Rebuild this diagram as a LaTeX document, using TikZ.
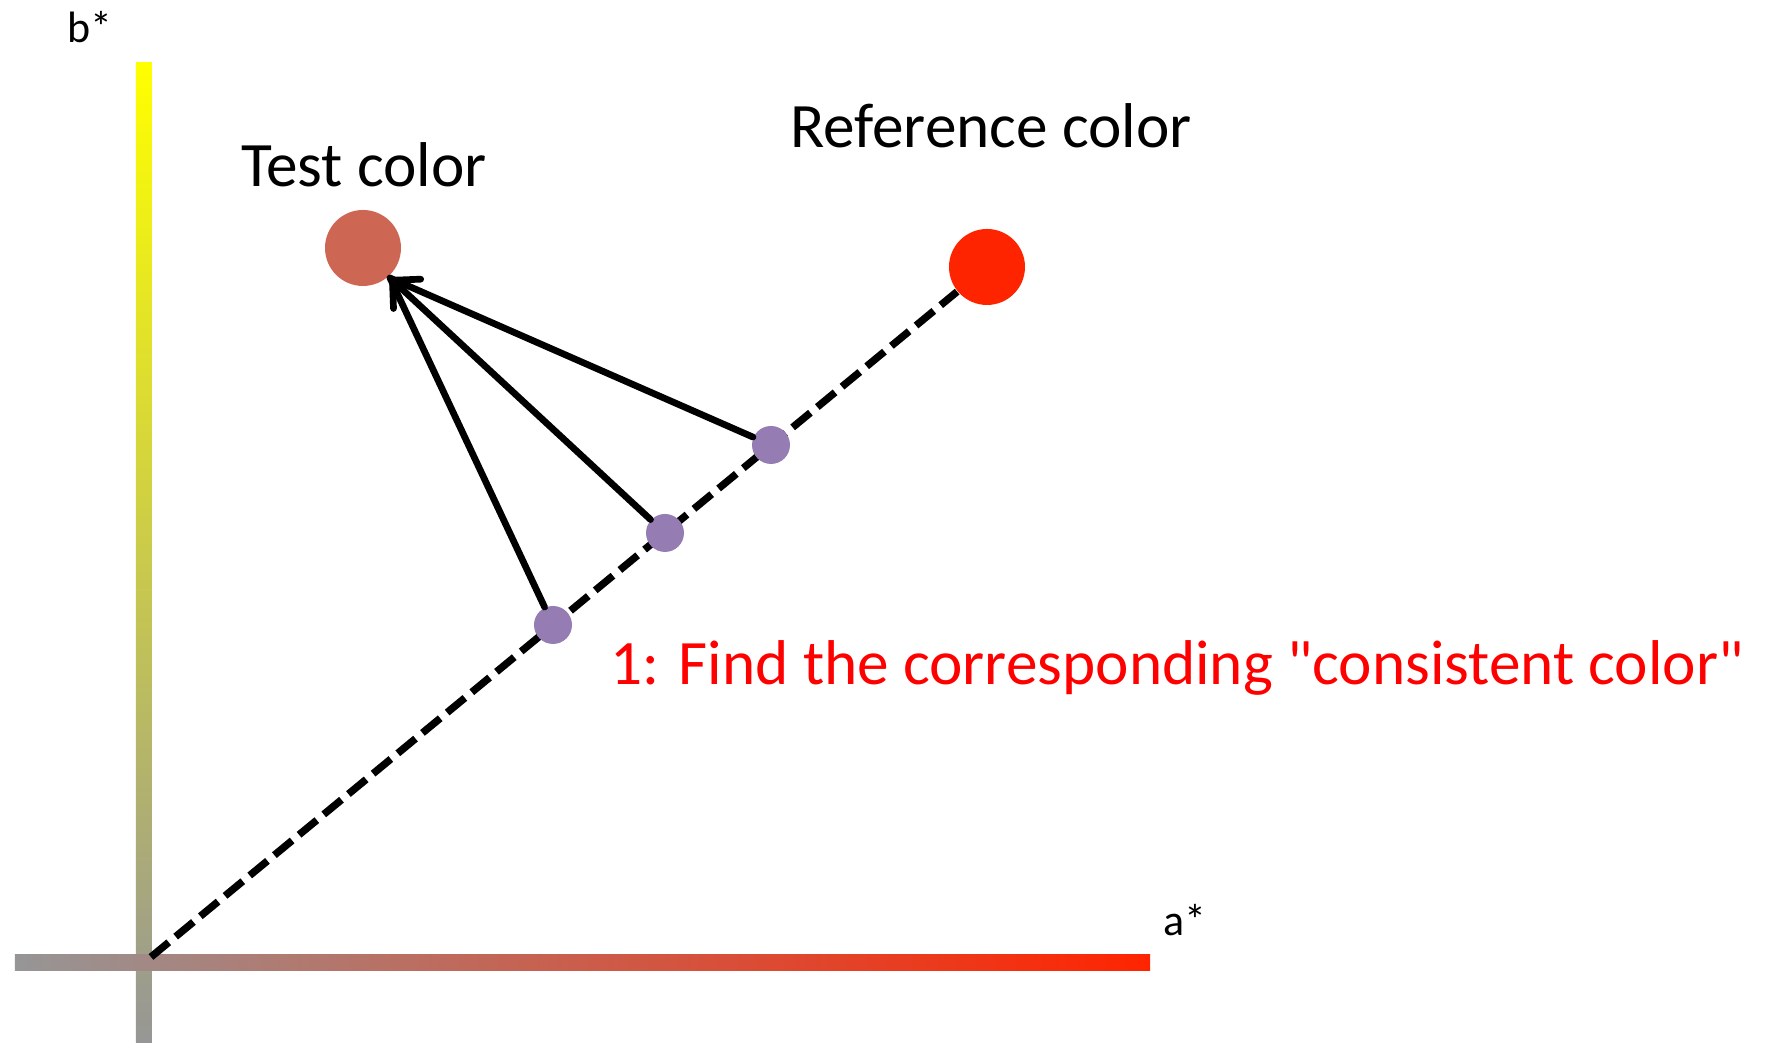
\documentclass[tikz,border=0pt]{standalone}
\usepackage{fontspec}
\setmainfont{Carlito}
\usepackage{tikz}
\usetikzlibrary{arrows.meta}
\definecolor{axisgray}{RGB}{150,150,150}
\definecolor{refred}{RGB}{255,36,0}
\definecolor{testred}{RGB}{205,103,83}
\definecolor{dotpurple}{RGB}{149,125,179}
\tikzset{
  axislabel/.style={font=\fontsize{12.5}{15}\selectfont, inner sep=0pt, anchor=base},
  biglabel/.style={font=\fontsize{18}{22}\selectfont, inner sep=0pt, anchor=base},
  colordot/.style={circle, minimum size=0.76cm, inner sep=0pt},
  smalldot/.style={circle, fill=dotpurple, minimum size=0.38cm, inner sep=0pt},
  arrow/.style={line width=1.9pt, line cap=round, -{Straight Barb[length=0.2cm, width=0.4cm, line join=round, line cap=round]}},
  plainline/.style={line width=1.9pt, line cap=round},
  dashline/.style={line width=2.1pt, dash pattern=on 0.23cm off 0.09cm},
}

\begin{document}
\begin{tikzpicture}
  \useasboundingbox (-1.44,-0.80) rectangle (16.27,9.63);

  % Axes
  \shade[bottom color=axisgray, top color=yellow] (-0.08,-0.80) rectangle (0.08,9.00);
  \shade[left color=axisgray, right color=refred] (-1.29,-0.08) rectangle (10.06,0.08);
  \node[axislabel] (bstar) at (-0.54,9.20) {b*};
  \node[axislabel] (astar) at (10.41,0.27) {a*};

  % Colors
  \node[colordot, fill=testred] (test) at (2.19,7.15) {};
  \node[colordot, fill=refred] (ref) at (8.43,6.96) {};
  \node[biglabel] (testlabel) at (2.20,7.76) {Test color};
  \node[biglabel] (reflabel) at (8.47,8.15) {Reference color};

  % Line to the reference
  \coordinate (start) at (0.07,0.06);
  \draw[dashline] (start) -- (ref);

  \node[smalldot] (c1) at (6.27,5.18) {};
  \node[smalldot] (c2) at (5.21,4.30) {};
  \node[smalldot] (c3) at (4.09,3.38) {};

  \coordinate (hit) at (2.46,6.85);
  \draw[plainline] (c1) -- (hit);
  \draw[arrow] (c2) -- (hit);
  \draw[plainline] (c3) -- (hit);

  \node[biglabel, anchor=base west, text=red] (step) at (4.66,2.78) {1: Find the corresponding \textquotedbl consistent color\textquotedbl};

\end{tikzpicture}
\end{document}
